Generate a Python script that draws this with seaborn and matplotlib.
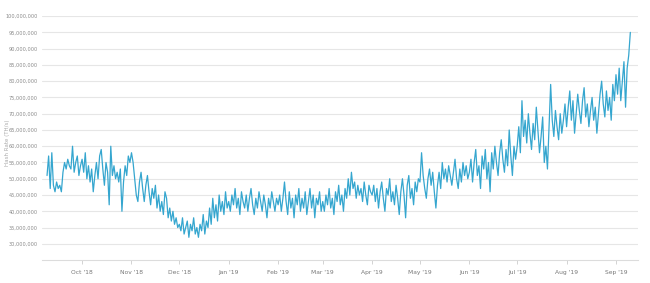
import numpy as np
import pandas as pd
import matplotlib
matplotlib.use("Agg")
import matplotlib.pyplot as plt
import matplotlib.dates as mdates
from matplotlib.ticker import FuncFormatter
import seaborn as sns

start_date = "2018-09-09"

# Daily hash rate, millions of TH/s, read month by month
sep18 = [51, 57, 47, 58, 48, 46, 49, 47, 48, 46, 52, 55, 53, 56, 54, 53, 60, 52, 55, 57, 51, 54]
oct18 = [56, 52, 58, 50, 54, 49, 53, 46, 51, 55, 50, 57, 59, 53, 48, 55, 52, 42, 60, 51, 54, 50, 52, 49, 53, 40, 49, 54, 51, 57, 55]
nov18 = [58, 55, 50, 45, 43, 49, 52, 47, 43, 48, 51, 46, 42, 47, 44, 48, 41, 45, 40, 43, 39, 46, 44, 38, 41, 37, 40, 36, 38, 35]
dec18 = [36, 34, 38, 33, 35, 37, 32, 36, 34, 38, 33, 35, 32, 36, 34, 39, 33, 37, 35, 41, 36, 44, 38, 42, 37, 45, 40, 43, 39, 46, 41]
jan19 = [43, 40, 45, 42, 47, 41, 44, 39, 46, 43, 41, 45, 40, 44, 47, 42, 39, 44, 41, 46, 43, 40, 45, 42, 38, 44, 41, 46, 43, 40, 44]
feb19 = [42, 45, 40, 44, 49, 43, 39, 46, 41, 44, 38, 45, 42, 47, 40, 44, 41, 46, 39, 43, 47, 41, 45, 38, 44, 42, 46, 40]
mar19 = [43, 40, 45, 42, 47, 41, 44, 39, 46, 43, 48, 42, 45, 40, 47, 44, 50, 45, 52, 47, 49, 44, 48, 45, 47, 43, 49, 45, 42, 48, 46]
apr19 = [45, 48, 43, 47, 41, 46, 49, 44, 40, 47, 45, 50, 43, 46, 42, 48, 44, 39, 46, 50, 45, 38, 48, 51, 44, 47, 42, 49, 46, 50]
may19 = [49, 58, 51, 47, 44, 50, 53, 48, 52, 46, 41, 48, 52, 47, 55, 50, 53, 49, 54, 51, 48, 52, 56, 50, 47, 53, 49, 55, 51, 54, 50]
jun19 = [52, 56, 49, 55, 59, 51, 54, 47, 57, 53, 59, 50, 55, 46, 58, 53, 60, 55, 51, 58, 62, 56, 52, 59, 54, 65, 57, 51, 60, 56]
jul19 = [60, 66, 58, 74, 63, 68, 61, 70, 64, 59, 67, 62, 72, 65, 58, 63, 69, 55, 60, 53, 66, 79, 68, 63, 71, 66, 62, 70, 64, 68, 73]
aug19 = [66, 72, 77, 68, 74, 64, 70, 76, 71, 67, 74, 78, 69, 73, 66, 71, 75, 68, 72, 64, 70, 76, 80, 73, 69, 77, 71, 75, 68, 79, 74]
sep19 = [82, 76, 84, 74, 80, 86, 72, 84, 88, 95]

values_m = sep18 + oct18 + nov18 + dec18 + jan19 + feb19 + mar19 + apr19 + may19 + jun19 + jul19 + aug19 + sep19
dates = pd.date_range(start_date, periods=len(values_m), freq="D")
df = pd.DataFrame({"date": dates, "hash_rate": np.array(values_m, dtype=float) * 1_000_000})

y_ticks = [30e6, 35e6, 40e6, 45e6, 50e6, 55e6, 60e6, 65e6, 70e6, 75e6, 80e6, 85e6, 90e6, 95e6, 100e6]
y_label = "Hash Rate (TH/s)"

sns.set_theme(style="white")
plt.rcParams['font.family'] = ['DejaVu Sans']

fig = plt.figure(figsize=(6.5, 2.83), dpi=100)
ax = fig.add_axes([0.065, 0.081, 0.917, 0.862])

sns.lineplot(data=df, x="date", y="hash_rate", ax=ax, color="#35a6cf", linewidth=0.9)

ax.set_ylim(25e6, 100e6)
ax.set_xlim(pd.Timestamp("2018-09-06"), pd.Timestamp("2019-09-15"))
ax.set_yticks(y_ticks)
ax.yaxis.set_major_formatter(FuncFormatter(lambda v, p: f"{int(v):,}"))
ax.grid(axis="y", color="#e6e6e6", linewidth=0.8)
ax.grid(axis="x", visible=False)

ax.xaxis.set_major_locator(mdates.MonthLocator())
ax.xaxis.set_major_formatter(mdates.DateFormatter("%b '%y"))

for s in ["top", "right", "left"]:
    ax.spines[s].set_visible(False)
ax.spines["bottom"].set_color("#dcdcdc")
ax.spines["bottom"].set_linewidth(0.8)

ax.tick_params(axis="y", length=0, labelsize=3.6, labelcolor="#8a8a8a", pad=3)
ax.tick_params(axis="x", length=3, width=0.6, color="#cccccc", labelsize=4.3,
               labelcolor="#777777", pad=4, bottom=True)

ax.set_xlabel("")
ax.set_ylabel(y_label, fontsize=4.0, color="#aaaaaa")
ax.yaxis.set_label_coords(-0.054, 0.48)

fig.savefig("out.png", dpi=100)
